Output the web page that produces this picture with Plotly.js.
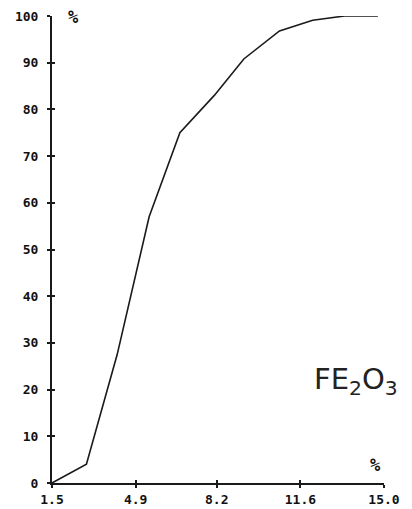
<!DOCTYPE html>
<html>
<head>
<meta charset="utf-8">
<script src="https://cdn.plot.ly/plotly-3.0.1.min.js"></script>
<style>html,body{margin:0;padding:0;background:#fff;}#chart{width:412px;height:509px;}</style>
</head>
<body>
<div id="chart"></div>
<script>
const xValues = [1.5, 2.9, 4.15, 5.45, 6.7, 8.1, 9.3, 10.75, 12.1, 13.4, 14.75];
const yValues = [0, 4, 27.5, 57, 75, 83, 90.8, 96.8, 99.1, 100, 100];
const xTicks = [1.5, 4.9, 8.2, 11.6, 15.0];
const xTickLabels = ["1.5", "4.9", "8.2", "11.6", "15.0"];
const yTicks = [0, 10, 20, 30, 40, 50, 60, 70, 80, 90, 100];
const yTickLabels = ["0", "10", "20", "30", "40", "50", "60", "70", "80", "90", "100"];
const chartLabel = "FE<sub>2</sub>O<sub>3</sub>";
const unitLabel = "%";

const tickFont = {family: "DejaVu Sans Mono", size: 13, color: "#111", weight: "bold"};

const traces = [
  {x: xValues, y: yValues, type: "scatter", mode: "lines",
   line: {color: "#1a1a1a", width: 1.6}, hoverinfo: "skip", showlegend: false}
];

const layout = {
  width: 412, height: 509,
  margin: {l: 52, r: 28, t: 16, b: 26},
  paper_bgcolor: "#fff", plot_bgcolor: "#fff",
  showlegend: false,
  xaxis: {
    range: [1.5, 15.0], tickvals: xTicks, ticktext: xTickLabels,
    showgrid: false, zeroline: false, showline: true, linecolor: "#1a1a1a", linewidth: 2,
    ticks: "outside", ticklen: 3, tickwidth: 2, tickcolor: "#1a1a1a",
    tickfont: tickFont, fixedrange: true
  },
  yaxis: {
    range: [0, 100], tickvals: yTicks, ticktext: yTickLabels,
    showgrid: false, zeroline: false, showline: true, linecolor: "#1a1a1a", linewidth: 2,
    ticks: "outside", ticklen: 3, tickwidth: 2, tickcolor: "#1a1a1a",
    ticklabelstandoff: 6,
    tickfont: tickFont, fixedrange: true
  },
  xaxis2: {
    range: [1.5, 15.0], tickvals: xTicks, showticklabels: false, overlaying: "x",
    showgrid: false, zeroline: false, showline: false,
    ticks: "inside", ticklen: 3, tickwidth: 2, tickcolor: "#1a1a1a", fixedrange: true
  },
  yaxis2: {
    range: [0, 100], tickvals: yTicks, showticklabels: false, overlaying: "y",
    showgrid: false, zeroline: false, showline: false,
    ticks: "inside", ticklen: 3, tickwidth: 2, tickcolor: "#1a1a1a", fixedrange: true
  },
  annotations: [
    {xref: "x", yref: "y", x: 1.5, y: 100, text: unitLabel, showarrow: false,
     xanchor: "left", yanchor: "middle", xshift: 14, yshift: -1,
     font: {family: "DejaVu Sans Mono", size: 17, color: "#111", weight: "bold"}},
    {xref: "x", yref: "y", x: 15.0, y: 0, text: unitLabel, showarrow: false,
     xanchor: "center", yanchor: "bottom", xshift: -9, yshift: 6,
     font: {family: "DejaVu Sans Mono", size: 17, color: "#111", weight: "bold"}},
    {xref: "x", yref: "y", x: 13.85, y: 21.8, text: chartLabel, showarrow: false,
     xanchor: "center", yanchor: "middle",
     font: {family: "DejaVu Sans", size: 29, color: "#222"}}
  ]
};

traces.push({x: [1.5], y: [0], xaxis: "x2", yaxis: "y2", type: "scatter", mode: "markers",
  marker: {opacity: 0}, hoverinfo: "skip", showlegend: false});

Plotly.newPlot("chart", traces, layout, {displayModeBar: false, staticPlot: true});
</script>
</body>
</html>
